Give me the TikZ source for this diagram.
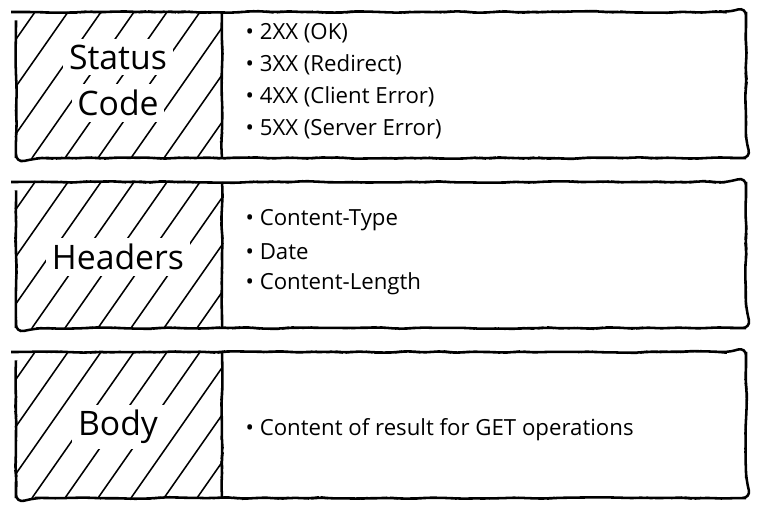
\documentclass[tikz,border=0pt]{standalone}
\usepackage{fontspec}
\setmainfont{Open Sans}
\usetikzlibrary{decorations.pathmorphing}

\begin{document}
\begin{tikzpicture}[
    wobbly/.style={decorate, decoration={random steps, segment length=7pt, amplitude=0.6pt},
        line width=1.8pt, rounded corners=6pt},
    hatch/.style={line width=1.1pt, line cap=round},
    title/.style={fill=white, inner sep=4pt, font=\fontsize{24}{27}\selectfont},
    item/.style={anchor=west, inner sep=1pt, font=\fontsize{15.8}{18}\selectfont}
]
\pgfmathsetseed{11}
\useasboundingbox (0,0) rectangle (19.025,-12.8);

% the three parts of a response
\foreach \t in {-0.3,-4.55,-8.8} {
    \begin{scope}
        \clip[rounded corners=8pt] (0.4,\t) rectangle (5.55,\t-3.65);
        \foreach \s in {-2.5,-1.675,...,5.6}
            \draw[hatch] (\s,\t-3.65) -- ++(2.55,3.65);
    \end{scope}
    \draw[wobbly] (0.4,\t) rectangle (18.65,\t-3.65);
    \draw[wobbly] (5.55,\t) -- (5.55,\t-3.65);
}

\node[title] (status) at (2.95,-1.425) {Status};
\node[title] (code) at (2.95,-2.575) {Code};
\node[title] (headers) at (2.95,-6.425) {Headers};
\node[title] (body) at (2.95,-10.675) {Body};

\node[item] (ok) at (6.1,-0.825) {\textbullet\ 2XX (OK)};
\node[item] (redirect) at (6.1,-1.625) {\textbullet\ 3XX (Redirect)};
\node[item] (client) at (6.1,-2.425) {\textbullet\ 4XX (Client Error)};
\node[item] (server) at (6.1,-3.225) {\textbullet\ 5XX (Server Error)};

\node[item] (ctype) at (6.1,-5.5) {\textbullet\ Content-Type};
\node[item] (date) at (6.1,-6.3) {\textbullet\ Date};
\node[item] (clength) at (6.1,-7.1) {\textbullet\ Content-Length};

\node[item] (content) at (6.1,-10.75) {\textbullet\ Content of result for GET operations};
\end{tikzpicture}
\end{document}
